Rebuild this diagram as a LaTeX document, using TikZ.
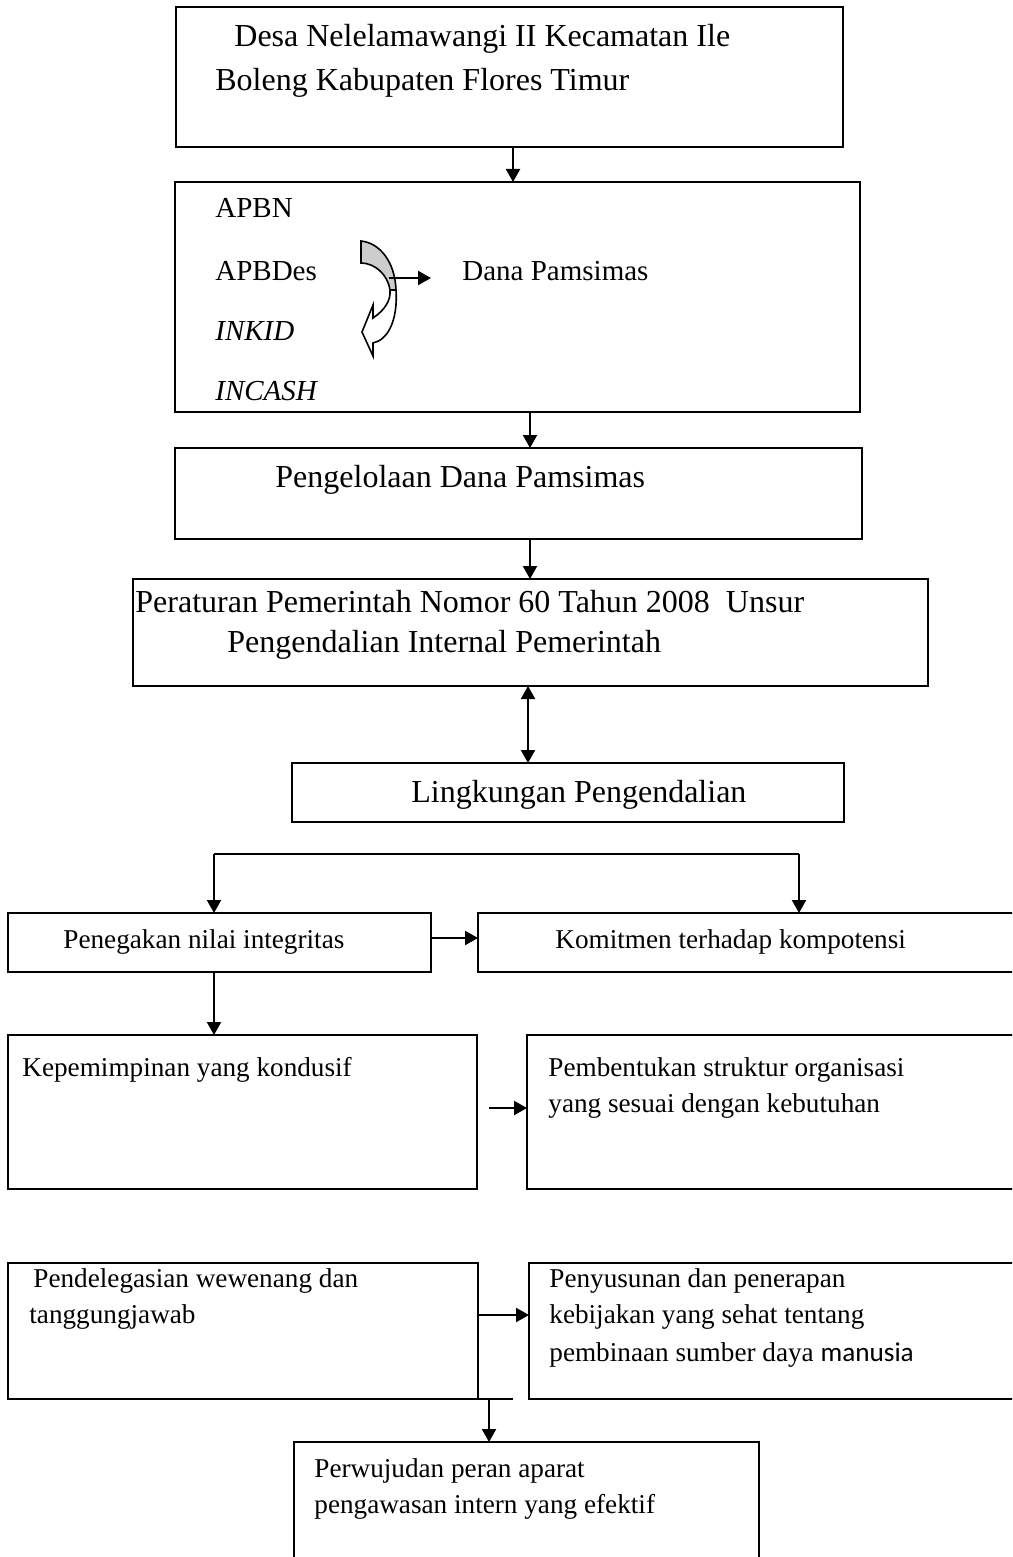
\documentclass[tikz,border=0pt]{standalone}
\usepackage{fontspec}
\setmainfont{Liberation Serif}
\newfontfamily\calibrifont{Carlito}
\usetikzlibrary{arrows.meta,fit}
\definecolor{bandgray}{RGB}{205,205,205}

\begin{document}
\begin{tikzpicture}[
    x=0.5pt, y=-0.5pt,
    box/.style={draw, line width=0.9pt, inner sep=0pt, outer sep=0pt},
    txt/.style={anchor=base west, inner sep=0pt},
    big/.style={font=\fontsize{16}{19}\selectfont},
    mid/.style={font=\fontsize{14.5}{17}\selectfont},
    sml/.style={font=\fontsize{13.6}{16}\selectfont},
    arr/.style={line width=1.1pt, -{Triangle[length=6.5pt, width=7pt]}},
    arrboth/.style={line width=1.1pt, {Triangle[length=6.5pt, width=7pt]}-{Triangle[length=6.5pt, width=7pt]}}
]
\clip (0,0) rectangle (1012,1557);

% kotak
\node[box, fit={(176,7) (843,147)}] (desa) {};
\node[box, fit={(175,182) (860,412)}] (sumber) {};
\node[box, fit={(175,448) (862,539)}] (kelola) {};
\node[box, fit={(133,579) (928,686)}] (pp) {};
\node[box, fit={(292,763) (844,822)}] (lingk) {};
\node[box, fit={(8,913) (431,972)}] (integ) {};
\node[box, fit={(478,913) (1016,972)}] (komit) {};
\node[box, fit={(8,1035) (477,1189)}] (pimpin) {};
\node[box, fit={(527,1035) (1016,1189)}] (struktur) {};
\node[box, fit={(8,1263) (478,1399)}] (deleg) {};
\node[box, fit={(529,1263) (1016,1399)}] (sdm) {};
\node[box, fit={(294,1442) (759,1580)}] (apip) {};

% teks
\node[txt, big] (desa1) at (234,47) {Desa Nelelamawangi II Kecamatan Ile};
\node[txt, big] (desa2) at (215,91) {Boleng Kabupaten Flores Timur};
\node[txt, mid] (apbn) at (215,218) {APBN};
\node[txt, mid] (apbdes) at (215,280) {APBDes};
\node[txt, mid] (inkid) at (215,340) {\itshape INKID};
\node[txt, mid] (incash) at (215,400) {\itshape INCASH};
\node[txt, mid] (dana) at (462,280) {Dana Pamsimas};
\node[txt, big] (kelola1) at (275,487) {Pengelolaan Dana Pamsimas};
\node[txt, big] (pp1) at (135,612) {Peraturan Pemerintah Nomor 60 Tahun 2008~~Unsur};
\node[txt, big] (pp2) at (227,652) {Pengendalian Internal Pemerintah};
\node[txt, big] (lingk1) at (411,802) {Lingkungan Pengendalian};
\node[txt, sml] (integ1) at (63,948) {Penegakan nilai integritas};
\node[txt, sml] (komit1) at (555,948) {Komitmen terhadap kompotensi};
\node[txt, sml] (pimpin1) at (22,1076) {Kepemimpinan yang kondusif};
\node[txt, sml] (struktur1) at (548,1076) {Pembentukan struktur organisasi};
\node[txt, sml] (struktur2) at (548,1112) {yang sesuai dengan kebutuhan};
\node[txt, sml] (deleg1) at (33,1287) {Pendelegasian wewenang dan};
\node[txt, sml] (deleg2) at (29,1323) {tanggungjawab};
\node[txt, sml] (sdm1) at (549,1287) {Penyusunan dan penerapan};
\node[txt, sml] (sdm2) at (549,1323) {kebijakan yang sehat tentang};
\node[txt, sml] (sdm3) at (549,1361) {pembinaan sumber daya {\calibrifont manusia}};
\node[txt, sml] (apip1) at (314,1477) {Perwujudan peran aparat};
\node[txt, sml] (apip2) at (314,1513) {pengawasan intern yang efektif};

% panah lengkung
\filldraw[fill=white, line width=0.8pt] (396,290) .. controls (398,320) and (388,340) .. (373,343)
    -- (373,356) -- (362,332) -- (373,305) -- (373,318)
    .. controls (385,310) and (391,300) .. (390,290) -- cycle;
\filldraw[fill=bandgray, line width=0.8pt] (361,241) .. controls (380,243) and (395,262) .. (396,290)
    -- (390,290) .. controls (388,275) and (375,263) .. (361,263) -- cycle;
\coordinate (bend) at (389,278);
\coordinate (bendend) at (431,278);
\draw[arr] (bend) -- (bendend);

% panah
\draw[arr] (desa.south -| 513,0) -- (sumber.north -| 513,0);
\draw[arr] (sumber.south -| 530,0) -- (kelola.north -| 530,0);
\draw[arr] (kelola.south -| 530,0) -- (pp.north -| 530,0);
\draw[arrboth] (pp.south -| 528,0) -- (lingk.north -| 528,0);

\coordinate (splitL) at (214,854);
\coordinate (splitR) at (799,854);
\draw[line width=1.1pt] (splitL) -- (splitR);
\draw[arr] (splitL) -- (integ.north -| splitL);
\draw[arr] (splitR) -- (komit.north -| splitR);
\draw[arr] (integ.east |- 0,938) -- (komit.west |- 0,938);
\draw[arr] (integ.south -| splitL) -- (pimpin.north -| splitL);

\coordinate (gap) at (489,1108);
\draw[arr] (gap) -- (struktur.west |- gap);
\draw[arr] (deleg.east |- 0,1315) -- (sdm.west |- 0,1315);

\coordinate (tailL) at (462,1399);
\coordinate (tailR) at (513,1399);
\draw[line width=0.9pt] (tailL) -- (tailR);
\draw[arr] (tailL -| 489,0) -- (apip.north -| 489,0);
\end{tikzpicture}
\end{document}
